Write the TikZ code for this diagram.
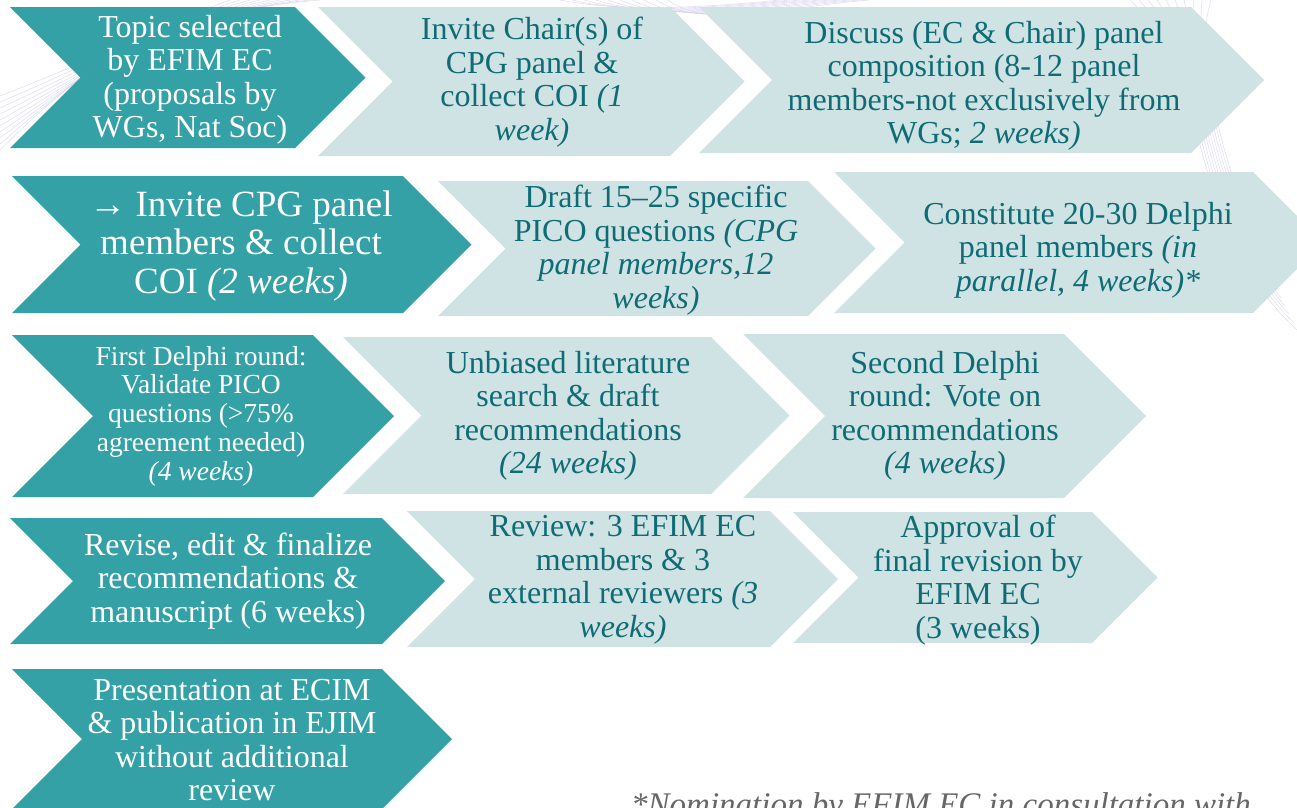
\documentclass[tikz,border=0pt]{standalone}
\usepackage{fontspec}
\setmainfont{Liberation Serif}
\definecolor{tealdark}{HTML}{33A1A5}
\definecolor{palebox}{HTML}{D0E3E4}
\definecolor{inkteal}{HTML}{0F6C75}
\definecolor{lavline}{HTML}{CBC5E6}
\definecolor{footgray}{HTML}{666666}
\newcommand\chevron[5]{%
  \pgfmathsetmacro\chM{(#4+#5)/2}%
  \pgfmathsetmacro\chD{(#5-#4)/2}%
  \fill[#1] (#2,#4) -- (#3,#4) -- ({#3+\chD},\chM) -- (#3,#5) -- (#2,#5) -- ({#2+\chD},\chM) -- cycle;}
\tikzset{
  darkbox/.style={fill=tealdark},
  lightbox/.style={fill=palebox},
  wtxt/.style={text=white, align=center, inner sep=0pt, font=\fontsize{32}{33.5}\selectfont},
  ltxt/.style={text=inkteal, align=center, inner sep=0pt, font=\fontsize{32}{33.5}\selectfont},
  deco/.style={draw=lavline, line width=0.6pt, opacity=0.55},
}
\begin{document}
\begin{tikzpicture}[x=1pt,y=-1pt]
\useasboundingbox (0,0) rectangle (1297,807);
\clip (0,0) rectangle (1297,807);
% faint background swirls
\foreach \i in {0,...,9} {
  \draw[deco] (0,{150-6*\i}) .. controls ({60+8*\i},{90-5*\i}) and ({120+6*\i},{40-3*\i}) .. ({230+10*\i},0);
  \draw[deco] ({1297-4*\i},{330-8*\i}) .. controls ({1180+5*\i},{220-6*\i}) and ({1220-3*\i},{90-4*\i}) .. ({1130+9*\i},0);
  \draw[deco] ({560+12*\i},0) .. controls ({620+10*\i},{12+2*\i}) and ({700+8*\i},{8}) .. ({780+10*\i},0);
}
% chevrons
\chevron{darkbox}{10}{295}{7}{148}
\chevron{lightbox}{318}{670}{7}{156}
\chevron{lightbox}{699}{1191}{7}{153}
\chevron{darkbox}{12}{403}{176}{313}
\chevron{lightbox}{438}{808}{181}{316}
\chevron{lightbox}{834}{1253}{172}{313}
\chevron{darkbox}{12}{313}{335}{497}
\chevron{lightbox}{343}{711}{337}{494}
\chevron{lightbox}{743}{1064}{334}{498}
\chevron{darkbox}{10}{382}{518}{644}
\chevron{lightbox}{407}{770}{511}{647}
\chevron{lightbox}{793}{1092}{512}{643}
\chevron{darkbox}{12}{382}{669}{809}
% texts
\node[wtxt] (t1) at (190,80) {Topic selected\\by EFIM EC\\(proposals by\\WGs, Nat Soc)};
\node[ltxt] (t2) at (532,82) {Invite Chair(s) of\\CPG panel \&\\collect COI \textit{(1}\\\textit{week)}};
\node[ltxt] (t3) at (984,86) {Discuss (EC \& Chair) panel\\composition (8-12 panel\\members-not exclusively from\\WGs; \textit{2 weeks)}};
\node[wtxt, font=\fontsize{37}{38.5}\selectfont] (t4) at (241,246) {→ Invite CPG panel\\members \& collect\\COI \textit{(2 weeks)}};
\node[ltxt] (t5) at (656,250) {Draft 15–25 specific\\PICO questions \textit{(CPG}\\\textit{panel members,12}\\\textit{weeks)}};
\node[ltxt] (t6) at (1078,250) {Constitute 20-30 Delphi\\panel members \textit{(in}\\\textit{parallel, 4 weeks)*}};
\node[wtxt, font=\fontsize{27.5}{28.7}\selectfont] (t7) at (201,416) {First Delphi round:\\Validate PICO\\questions (>75\%\\agreement needed)\\\textit{(4 weeks)}};
\node[ltxt] (t8) at (568,416) {Unbiased literature\\search \& draft\\recommendations\\\textit{(24 weeks)}};
\node[ltxt] (t9) at (945,416) {Second Delphi\\round: Vote on\\recommendations\\\textit{(4 weeks)}};
\node[wtxt] (t10) at (228,581) {Revise, edit \& finalize\\recommendations \&\\manuscript (6 weeks)};
\node[ltxt] (t11) at (623,580) {Review: 3 EFIM EC\\members \& 3\\external reviewers \textit{(3}\\\textit{weeks)}};
\node[ltxt] (t12) at (978,580) {Approval of\\final revision by\\EFIM EC\\(3 weeks)};
\node[wtxt] (t13) at (232,740) {Presentation at ECIM\\\& publication in EJIM\\without additional\\review};
\node[anchor=base west, inner sep=0pt, text=footgray, font=\fontsize{33}{35}\selectfont\itshape] (foot) at (631,815) {*Nomination by EFIM EC in consultation with};
\end{tikzpicture}
\end{document}
